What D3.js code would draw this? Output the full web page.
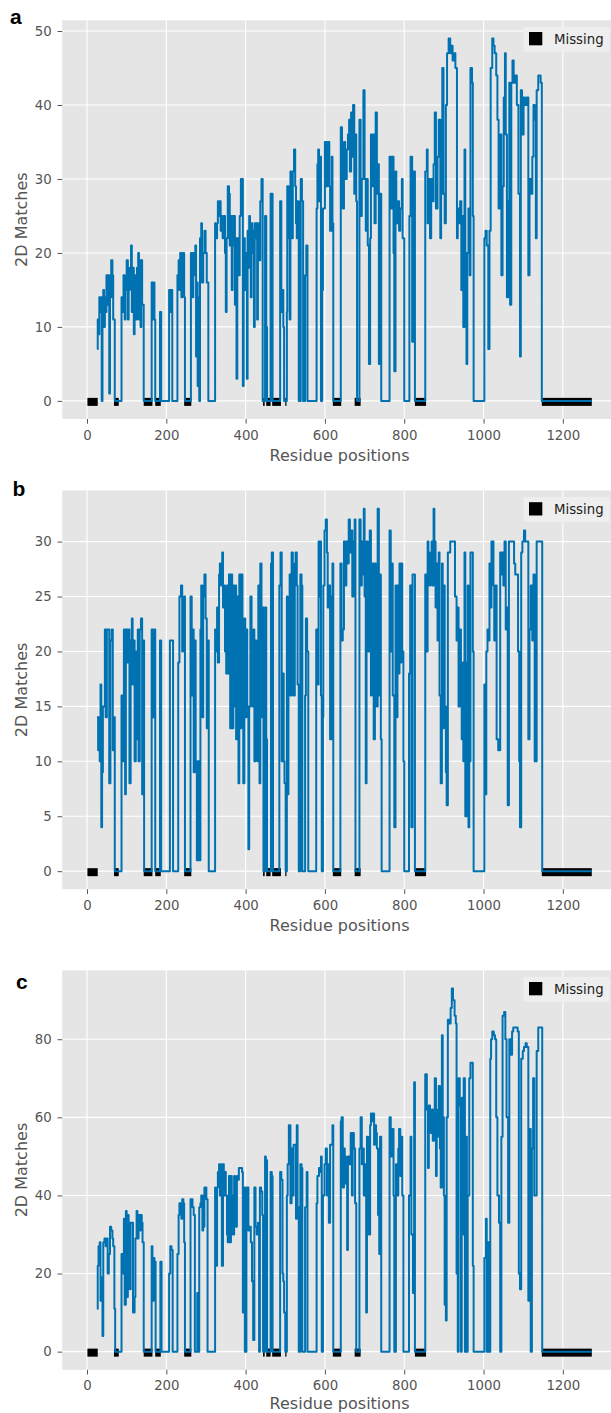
<!DOCTYPE html>
<html><head><meta charset="utf-8">
<script src="https://cdn.jsdelivr.net/npm/d3@7"></script>
<style>body{margin:0;background:#fff}svg{display:block}</style>
</head><body><svg id="chart" width="611" height="1413"></svg>
<script>
// ---------- data (residue position where a value starts, value) ----------
const posA=[25,27,29,31,33,35,37,39,41,43,45,47,49,52,54,56,58,61,64,66,70,87,89,92,95,97,100,103,105,108,111,113,116,118,120,123,126,129,131,133,135,137,139,143,163,166,168,170,172,184,187,207,210,212,215,228,231,233,235,238,240,242,245,247,262,265,268,271,273,275,277,279,281,283,285,288,290,293,296,299,302,306,323,325,328,330,333,335,337,339,342,345,348,350,352,355,358,360,363,365,367,369,371,373,375,377,379,382,385,388,391,393,395,398,400,403,405,407,409,411,413,415,417,419,421,423,425,427,429,431,433,435,437,440,443,449,452,454,463,468,487,490,493,495,497,504,505,508,511,513,516,519,522,525,527,529,531,534,539,542,545,550,553,556,579,581,583,585,587,590,593,595,600,604,607,611,613,617,619,621,640,643,645,648,651,655,658,661,663,666,669,671,674,677,679,681,687,690,693,697,700,703,705,708,711,714,716,719,722,725,728,731,733,736,738,742,763,766,769,773,775,778,780,784,787,790,794,796,800,813,816,820,823,827,853,857,859,862,865,868,871,874,877,880,884,887,891,893,896,899,902,905,908,912,916,919,922,926,929,933,935,938,941,944,947,949,952,954,957,959,962,965,967,971,973,975,1002,1005,1008,1012,1015,1018,1022,1025,1028,1032,1035,1038,1042,1045,1048,1051,1054,1056,1059,1062,1065,1067,1070,1073,1076,1080,1084,1088,1092,1094,1097,1101,1105,1109,1113,1116,1119,1123,1126,1129,1132,1134,1138,1141,1144,1147,1273];
const valA=[7,11,9,14,12,14,0,14,15,10,14,12,17,13,17,1,14,19,17,11,0,14,12,17,11,15,19,11,15,18,21,12,18,9,17,11,18,20,11,19,10,19,13,0,16,11,16,11,0,12,0,15,12,15,0,17,19,15,20,14,19,20,14,0,20,14,20,17,21,6,16,2,14,0,22,24,16,20,23,20,16,0,24,22,24,27,25,27,23,25,22,25,20,12,22,29,28,21,25,15,25,21,25,13,22,3,22,17,25,30,30,2,22,15,20,3,23,18,25,22,14,24,20,23,10,24,22,24,11,22,24,19,27,30,0,25,10,0,28,0,27,12,15,10,0,12,29,22,11,31,22,31,34,29,24,22,27,0,30,27,0,17,21,0,26,32,34,27,33,0,15,26,35,29,35,29,23,33,24,0,37,33,26,35,30,34,36,38,31,39,33,40,28,36,27,0,38,25,30,42,30,23,30,21,5,22,36,29,36,24,39,28,32,5,28,0,33,26,33,20,4,31,24,27,23,26,30,22,0,25,33,8,31,0,31,34,24,30,22,30,27,32,39,26,33,38,22,28,45,28,24,40,47,49,47,48,46,47,45,22,26,24,27,15,25,10,34,20,5,20,26,17,45,43,25,0,22,23,21,7,23,45,49,48,47,44,38,26,36,17,29,41,47,36,14,27,43,13,43,46,43,44,40,28,6,42,36,41,40,41,17,30,28,33,40,38,22,42,44,44,43,0,0];

const posB=[25,28,30,32,34,36,38,40,45,47,50,56,59,62,65,67,70,87,90,93,96,98,102,104,107,110,113,115,118,120,123,125,128,130,133,136,139,142,144,163,166,169,172,184,187,209,217,230,233,237,240,242,245,247,261,264,266,269,272,274,277,280,283,286,288,291,293,296,299,302,304,307,323,326,328,330,333,335,338,341,343,346,348,351,353,356,358,361,363,366,369,371,374,376,379,382,384,387,389,392,394,397,399,402,404,407,409,412,415,417,420,422,425,427,430,432,435,437,440,442,445,449,452,454,464,466,469,485,488,491,493,496,498,501,504,506,508,511,513,516,519,521,524,526,529,531,534,538,541,543,550,552,555,558,578,581,584,586,588,590,592,595,596,599,602,605,607,610,613,616,619,621,639,642,645,648,651,654,657,660,663,666,669,672,675,677,687,690,693,695,698,700,703,705,708,710,713,716,718,721,723,726,728,731,733,736,738,741,743,763,766,769,771,775,778,780,783,785,788,790,793,795,798,800,812,815,818,821,825,827,853,856,859,861,864,866,869,871,874,876,879,882,884,887,889,892,895,897,900,902,905,907,910,916,928,932,935,937,940,943,945,948,949,952,954,957,960,962,964,967,971,973,975,1002,1005,1007,1010,1012,1015,1017,1020,1022,1025,1027,1030,1033,1037,1042,1045,1048,1050,1053,1056,1058,1061,1064,1077,1080,1084,1087,1090,1092,1095,1098,1102,1105,1113,1116,1119,1123,1126,1129,1134,1148,1273];
const valB=[14,11,14,10,17,4,9,15,22,14,22,8,21,22,11,14,0,16,10,22,7,22,19,22,8,21,23,17,21,10,20,12,22,10,22,23,7,21,0,22,14,22,0,21,0,21,0,19,25,26,20,24,25,0,25,16,22,9,21,10,1,10,1,22,26,14,25,27,23,13,21,0,22,20,24,19,27,28,26,29,24,26,20,18,26,18,27,13,27,13,26,15,26,12,25,8,27,13,27,20,8,23,14,22,15,2,15,25,20,15,22,10,21,18,10,26,8,28,14,24,0,24,12,0,28,29,0,26,29,10,18,10,8,0,25,7,23,27,16,29,26,16,28,29,26,17,0,27,26,0,16,23,20,0,22,17,30,25,30,16,0,14,26,31,32,29,24,26,12,25,28,0,28,21,22,30,26,30,28,32,29,31,25,30,32,0,32,26,30,27,33,25,8,30,26,20,31,16,25,28,12,28,21,15,33,16,27,12,0,31,20,28,16,4,26,14,26,18,28,19,28,20,10,0,18,26,4,27,27,0,27,20,30,29,26,28,30,26,33,30,24,28,21,29,16,8,28,13,26,15,9,6,29,30,25,21,24,15,22,16,12,19,10,29,5,19,26,4,10,29,29,20,0,17,7,20,22,21,28,24,30,30,26,21,26,12,11,29,27,29,26,30,22,24,6,30,28,27,27,20,10,4,29,30,31,30,12,22,26,21,27,10,30,0,0];

const posC=[25,27,29,32,34,37,39,41,44,47,50,52,55,58,61,64,66,69,71,87,90,93,95,98,100,103,105,108,110,113,116,120,122,125,127,130,133,135,138,140,143,163,165,168,170,173,185,188,207,210,213,216,228,231,233,236,238,240,243,245,247,261,264,266,269,272,278,281,283,286,288,291,293,296,299,301,304,323,325,328,330,333,335,338,340,343,345,348,350,353,355,358,360,363,365,368,371,373,376,378,381,383,386,388,391,393,395,398,402,404,407,410,413,416,419,422,425,428,431,434,436,439,442,444,449,451,454,463,466,468,487,490,493,495,497,500,504,506,509,511,513,516,519,521,524,527,529,531,534,538,541,543,550,554,556,579,581,585,588,590,592,595,599,602,605,608,610,613,616,619,621,640,642,645,648,650,653,656,658,662,665,668,670,673,676,679,687,690,693,695,698,701,704,706,709,711,714,716,719,721,724,726,729,731,734,737,739,742,763,766,769,773,775,779,781,785,787,790,793,795,798,812,816,818,822,825,827,853,857,860,862,865,867,870,872,875,877,880,882,885,887,890,892,895,897,900,902,905,907,910,913,917,920,923,927,930,932,935,937,940,943,945,948,950,953,955,958,960,964,967,970,973,975,1002,1006,1008,1011,1014,1017,1019,1022,1026,1029,1032,1035,1039,1042,1045,1048,1052,1055,1058,1062,1065,1069,1072,1075,1079,1082,1086,1089,1092,1095,1099,1102,1106,1109,1113,1116,1119,1122,1125,1128,1131,1134,1138,1141,1144,1148,1273];
const valC=[11,22,27,28,13,19,4,28,29,27,29,20,25,32,31,29,27,11,0,25,20,34,12,36,14,35,33,16,33,33,10,14,29,36,29,35,31,35,33,28,0,27,13,24,23,0,23,0,20,27,26,0,25,35,38,37,34,39,38,28,0,39,39,37,35,0,15,0,37,38,40,31,32,42,42,39,0,42,22,42,46,48,40,48,22,48,40,46,40,30,28,45,28,45,40,30,45,43,32,45,44,47,47,47,46,10,42,0,42,42,31,32,28,18,3,42,32,30,33,0,42,41,35,0,50,49,0,46,45,0,46,44,20,18,10,0,40,48,58,58,38,52,40,53,53,34,58,37,0,48,47,0,37,46,0,38,45,47,46,50,0,40,48,52,40,48,33,53,53,58,0,59,60,42,52,50,43,26,50,48,56,40,56,52,38,0,52,60,48,52,40,48,10,55,52,30,58,61,59,61,53,58,56,52,35,25,55,0,60,50,57,40,0,48,40,52,57,45,55,40,0,40,55,30,15,69,0,71,62,47,63,62,56,62,54,60,70,45,55,62,68,52,42,81,60,40,12,8,60,85,84,88,93,90,86,84,20,0,70,63,0,65,30,70,0,55,0,40,70,74,74,22,0,24,34,0,28,0,75,80,82,81,80,60,40,33,0,55,86,87,80,60,33,80,76,82,83,83,83,82,20,16,75,77,78,79,78,13,57,0,52,70,40,40,77,83,83,83,0,0];

const missingStart=[1,68,143,172,245,444,452,467,500,620,675,827,1147];
const missingEnd=[27,80,165,186,263,448,463,489,503,641,690,855,1273];

const xTicks=[0,200,400,600,800,1000,1200];
const yTicksA=[0,10,20,30,40,50];
const yTicksB=[0,5,10,15,20,25,30];
const yTicksC=[0,20,40,60,80];
const panelLetters=["a","b","c"];
const xLabel="Residue positions";
const yLabel="2D Matches";
const legendLabel="Missing";

// ---------- layout ----------
const svg=d3.select("#chart");
const plotLeft=62.2, plotRight=617;
const x=d3.scaleLinear().domain([-62.6,1336.6]).range([plotLeft,plotRight]);
const panels=[
  {pos:posA,val:valA,ticks:yTicksA,dom:[-2.45,51.45],top:20.3,bottom:419,lx:10,ly:24,xl:41.5},
  {pos:posB,val:valB,ticks:yTicksB,dom:[-1.65,34.65],top:490.5,bottom:889.3,lx:12.5,ly:496,xl:41.5},
  {pos:posC,val:valC,ticks:yTicksC,dom:[-4.65,97.65],top:970.3,bottom:1369.8,lx:16,ly:989,xl:39.2}
];
const FONT="'DejaVu Sans', Verdana, sans-serif";

panels.forEach((p,i)=>{
  const y=d3.scaleLinear().domain(p.dom).range([p.bottom,p.top]);
  const g=svg.append("g");
  const cid="clip"+i;
  svg.append("clipPath").attr("id",cid).append("rect")
    .attr("x",plotLeft).attr("y",p.top).attr("width",plotRight-plotLeft).attr("height",p.bottom-p.top);
  g.append("rect").attr("x",plotLeft).attr("y",p.top).attr("width",plotRight-plotLeft)
    .attr("height",p.bottom-p.top).attr("fill","#E5E5E5");
  // grid
  g.append("g").selectAll("line").data(xTicks).join("line")
    .attr("x1",d=>x(d)).attr("x2",d=>x(d)).attr("y1",p.top).attr("y2",p.bottom)
    .attr("stroke","#fff").attr("stroke-width",1.1);
  g.append("g").selectAll("line").data(p.ticks).join("line")
    .attr("x1",plotLeft).attr("x2",plotRight).attr("y1",d=>y(d)).attr("y2",d=>y(d))
    .attr("stroke","#fff").attr("stroke-width",1.1);
  // missing bars
  const y0=y(0);
  g.append("g").attr("clip-path",`url(#${cid})`).selectAll("rect").data(missingStart).join("rect")
    .attr("x",(d)=>x(d)).attr("width",(d,j)=>x(missingEnd[j])-x(d))
    .attr("y",y0-3).attr("height",8).attr("fill","#000");
  // line
  const pts=p.pos.map((d,j)=>[d,p.val[j]]);
  const line=d3.line().x(d=>x(d[0])).y(d=>y(d[1])).curve(d3.curveStepAfter);
  g.append("path").attr("clip-path",`url(#${cid})`).datum(pts).attr("d",line)
    .attr("fill","none").attr("stroke","#0072B2").attr("stroke-width",2)
    .attr("stroke-linejoin","round");
  // axes
  const ax=g.append("g").attr("transform",`translate(0,${p.bottom})`)
    .call(d3.axisBottom(x).tickValues(xTicks).tickSize(4.7).tickPadding(6.5).tickFormat(d3.format("d")));
  const ay=g.append("g").attr("transform",`translate(${plotLeft},0)`)
    .call(d3.axisLeft(y).tickValues(p.ticks).tickSize(4.7).tickPadding(5.8).tickFormat(d3.format("d")));
  [ax,ay].forEach(a=>{
    a.select(".domain").remove();
    a.selectAll("line").attr("stroke","#555").attr("stroke-width",1);
    a.selectAll("text").attr("fill","#555").style("font-family",FONT).style("font-size","13.3px");
  });
  // labels
  g.append("text").attr("x",(plotLeft+plotRight)/2).attr("y",p.bottom+p.xl)
    .attr("text-anchor","middle").attr("fill","#555").style("font-family",FONT).style("font-size","16px")
    .text(xLabel);
  g.append("text").attr("transform",`translate(26.5,${(p.top+p.bottom)/2}) rotate(-90)`)
    .attr("text-anchor","middle").attr("fill","#555").style("font-family",FONT).style("font-size","16px")
    .text(yLabel);
  // legend
  const lg=g.append("g").attr("transform",`translate(523.3,${p.top+6.4})`);
  lg.append("rect").attr("width",86.7).attr("height",25).attr("rx",2.5).attr("fill","#EEEEEE");
  lg.append("rect").attr("x",5.7).attr("y",5.3).attr("width",13.3).attr("height",13.3).attr("fill","#000");
  lg.append("text").attr("x",30.7).attr("y",17).attr("fill","#222")
    .style("font-family",FONT).style("font-size","13.3px").text(legendLabel);
  // panel letter
  svg.append("text").attr("x",p.lx).attr("y",p.ly).attr("fill","#000")
    .style("font-family","'Liberation Sans', Arial, sans-serif").style("font-weight","bold").style("font-size","21px")
    .text(panelLetters[i]);
});
</script></body></html>
